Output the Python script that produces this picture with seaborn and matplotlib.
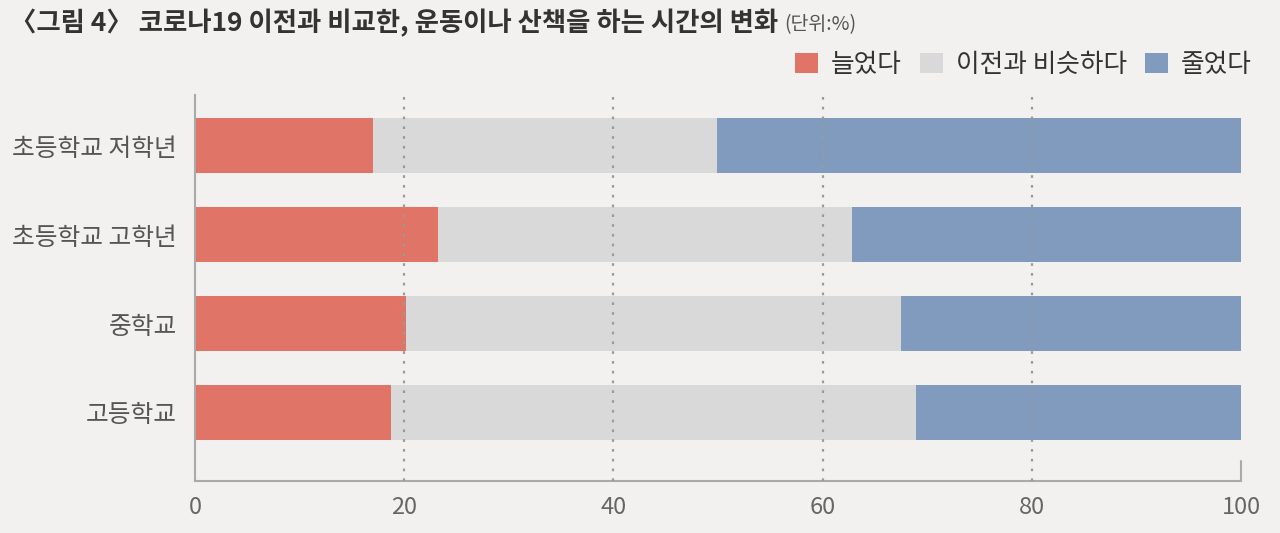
import pandas as pd
import seaborn as sns
import matplotlib.pyplot as plt

# values (%)
groups = ['초등학교 저학년', '초등학교 고학년', '중학교', '고등학교']
increased = [17.0, 23.2, 20.2, 18.7]
similar = [32.9, 39.6, 47.3, 50.2]
decreased = [50.1, 37.2, 32.5, 31.1]

series_names = ['늘었다', '이전과 비슷하다', '줄었다']
series_colors = ['#E07466', '#D9D9D9', '#819BBE']
x_ticks = [0, 20, 40, 60, 80, 100]

title = '〈그림 4〉 코로나19 이전과 비교한, 운동이나 산책을 하는 시간의 변화'
unit = '(단위:%)'

df = pd.DataFrame({'group': groups, '늘었다': increased,
                   '이전과 비슷하다': similar, '줄었다': decreased})
# stacked bars = cumulative sums, drawn back to front
cum = df[series_names].cumsum(axis=1)
cum['group'] = df['group']

sns.set_style('white')
plt.rcParams['font.family'] = ['Noto Sans CJK KR', 'DejaVu Sans']

bg = '#F2F1EF'
fig, ax = plt.subplots(figsize=(12.8, 5.33), dpi=100)
fig.patch.set_facecolor(bg)
ax.set_facecolor(bg)
fig.subplots_adjust(left=0.1523, right=0.9695, bottom=0.0976, top=0.8218)

for name, color in reversed(list(zip(series_names, series_colors))):
    sns.barplot(data=cum, x=name, y='group', orient='h', color=color,
                saturation=1, width=0.62, linewidth=0, label=name, ax=ax)

# dotted guide lines above the bars
for t in x_ticks[1:-1]:
    ax.axvline(t, color='#9A9A9A', linestyle=(0, (1.2, 3.2)), lw=1.6, zorder=5)
ax.axvline(100, ymin=0, ymax=20 / 386, color='#AAAAAA', lw=1.5, clip_on=False)

ax.set_xlim(0, 100)
ax.set_ylim(3.77, -0.57)
ax.set_xticks(x_ticks)
ax.set_xlabel('')
ax.set_ylabel('')
sns.despine(ax=ax)
for s in ['left', 'bottom']:
    ax.spines[s].set_color('#AAAAAA')
    ax.spines[s].set_linewidth(1.5)
ax.tick_params(axis='x', length=0, pad=11, labelsize=17, labelcolor='#666666')
ax.tick_params(axis='y', length=0, pad=13, labelsize=17.8, labelcolor='#555555')

handles, labels = ax.get_legend_handles_labels()
order = [labels.index(n) for n in series_names]
ax.legend([handles[i] for i in order], [labels[i] for i in order],
          loc='center right', bbox_to_anchor=(1252 / 1280, 1 - 65 / 533),
          bbox_transform=fig.transFigure, ncol=3, frameon=False,
          borderpad=0, borderaxespad=0,
          fontsize=18.5, handlelength=0.9, handleheight=0.8,
          handletextpad=0.5, columnspacing=0.7, labelcolor='#333333')

t = fig.text(10 / 1280, 1 - 23 / 533, title, fontsize=19, fontweight='bold',
             color='#333333', va='center', ha='left')
fig.canvas.draw()
bb = t.get_window_extent()
fig.text((bb.x1 + 6) / 1280, 1 - 25 / 533, unit, fontsize=14,
         color='#555555', va='center', ha='left')

plt.savefig('out.png', dpi=100, facecolor=bg)
